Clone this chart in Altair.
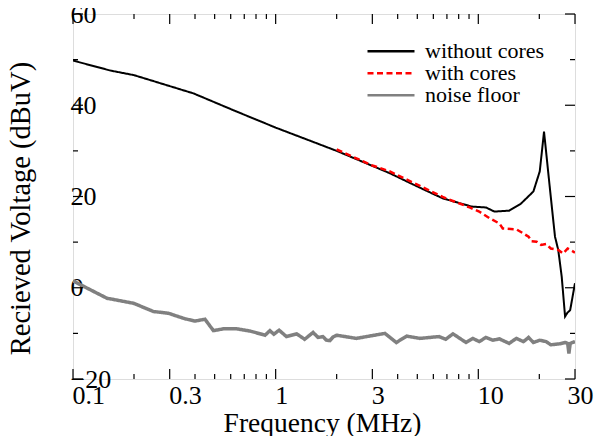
import altair as alt
import pandas as pd

# ---------------- data ----------------
series_names = ["without cores", "with cores", "noise floor"]
series_colors = ["#000000", "#ff0000", "#808080"]

f_without = [0.1, 0.153, 0.2, 0.3, 0.393, 0.643, 1.0, 2.0, 3.66, 5.0, 6.67, 9.26, 10.9,
             12.0, 14.2, 16.2, 18.7, 20.1, 21.1, 22.6, 23.9, 24.8, 25.8, 26.8, 27.5, 28.4, 30.0]
v_without = [49.8, 47.6, 46.6, 44.2, 42.6, 38.6, 35.1, 30.0, 25.1, 22.2, 19.6, 17.8, 17.6,
             16.7, 16.9, 18.4, 21.1, 25.5, 34.2, 21.4, 11.2, 8.3, 2.4, -6.3, -5.5, -4.9, 1.0]

f_with = [2.0, 3.0, 3.66, 5.0, 6.67, 9.06, 10.1, 11.4, 12.7, 13.2, 15.4, 16.7, 17.7, 18.3,
          19.4, 20.4, 21.6, 22.8, 24.8, 26.2, 27.6, 28.5, 30.0]
v_with = [30.3, 26.8, 25.5, 22.6, 19.9, 17.6, 16.7, 15.2, 14.1, 13.0, 12.8, 11.9, 11.2, 10.2,
          10.1, 9.4, 9.6, 8.6, 8.3, 7.5, 8.6, 8.3, 7.7]

f_noise = [0.1, 0.147, 0.199, 0.249, 0.296, 0.357, 0.40, 0.448, 0.493, 0.553, 0.643, 0.75,
           0.886, 0.937, 0.98, 1.04, 1.13, 1.27, 1.39, 1.53, 1.62, 1.71, 1.78, 1.85, 1.92, 2.0,
           2.5, 3.46, 3.94, 4.43, 5.15, 6.4, 6.9, 7.5, 8.7, 9.4, 10.1, 10.9, 11.8, 12.7, 14.2,
           15.4, 16.7, 17.7, 18.7, 20.1, 21.6, 22.8, 25.1, 26.9, 27.6, 28.0, 28.4, 30.0]
v_noise = [1.5, -2.3, -3.4, -5.2, -5.6, -6.8, -7.3, -6.9, -9.4, -9.0, -9.0, -9.5,
           -10.4, -9.4, -10.2, -9.3, -10.7, -10.1, -11.3, -9.8, -10.9, -10.7, -11.5, -11.6, -10.8, -10.4,
           -11.1, -10.0, -12.0, -10.6, -11.1, -10.7, -11.3, -10.1, -12.0, -11.1, -11.8, -10.9, -11.5, -11.2, -12.2,
           -11.1, -11.8, -10.9, -12.0, -11.5, -11.8, -12.5, -12.3, -12.0, -12.2, -14.4, -12.2, -11.8]

x_major = [0.1, 0.3, 1, 3, 10, 30]
x_minor = [0.2, 0.4, 0.5, 0.6, 0.7, 0.8, 0.9, 2, 4, 5, 6, 7, 8, 9, 20]
y_major = [-20, 0, 20, 40, 60]
y_minor = [-10, 10, 30, 50]

# ---------------- build table ----------------
rows = []
for name, fs, vs in [(series_names[0], f_without, v_without),
                     (series_names[1], f_with, v_with),
                     (series_names[2], f_noise, v_noise)]:
    for f, v in zip(fs, vs):
        rows.append({"freq": f, "value": v, "series": name})
df = pd.DataFrame(rows)

W, H = 502, 365
FONT = "Liberation Serif"

xs = alt.Scale(type="log", domain=[0.1, 30], nice=False)
ys = alt.Scale(domain=[-20, 60], nice=False)
color_scale = alt.Scale(domain=series_names, range=series_colors)
dash_scale = alt.Scale(domain=series_names, range=[[1, 0], [6, 3.5], [1, 0]])

xaxis = alt.Axis(values=x_major, format="~g", title="Frequency (MHz)",
                 titleFont=FONT, titleFontSize=27.5, titleFontWeight="normal", titleColor="black",
                 titleX=249, titleY=52, titleBaseline="alphabetic", titleAlign="center",
                 labelFont=FONT, labelFontSize=26, labelColor="black", labelAlign="left",
                 labelBaseline="alphabetic", labelPadding=24.3,
                 labelOffset={"condition": {"test": "datum.value >= 30", "value": -8}, "value": -1},
                 labelFlush=False, labelOverlap=False, labelBound=False,
                 ticks=False, domain=False, grid=False)
yaxis = alt.Axis(values=y_major, format="d", title="Recieved Voltage (dBuV)",
                 titleFont=FONT, titleFontSize=28.5, titleFontWeight="normal", titleColor="black",
                 titleX=-43.4, titleY=194, titleBaseline="alphabetic", titleAlign="center",
                 labelFont=FONT, labelFontSize=26, labelColor="black", labelAlign="left",
                 labelBaseline="middle", labelPadding=3, labelFlush=False,
                 labelOverlap=False, labelBound=False, ticks=False, domain=False, grid=False)

# legend symbol: a long horizontal stroke drawn from a custom path
legend = alt.Legend(title=None, orient="none", legendX=307, legendY=26.2,
                    symbolType="M-4.7,0H4.7", symbolSize=100, symbolStrokeWidth=2.5,
                    labelFont=FONT, labelFontSize=22, labelColor="black", labelOffset=23,
                    rowPadding={"expr": "-1.4"}, padding=0, labelLimit=0)

base = alt.Chart(df)


def line(name, sw):
    return base.transform_filter(alt.datum.series == name).mark_line(strokeWidth=sw, clip=True).encode(
        x=alt.X("freq:Q", scale=xs, axis=xaxis),
        y=alt.Y("value:Q", scale=ys, axis=yaxis),
        color=alt.Color("series:N", scale=color_scale, legend=legend),
        strokeDash=alt.StrokeDash("series:N", scale=dash_scale, legend=legend),
    )


def xticks(vals, length, top):
    d = pd.DataFrame({"t": vals})
    y0, y1 = (0, length) if top else (H, H - length)
    return alt.Chart(d).mark_rule(color="black", strokeWidth=1.2).encode(
        x=alt.X("t:Q", scale=xs, axis=xaxis), y=alt.value(y0), y2=alt.value(y1))


def yticks(vals, length, right):
    d = pd.DataFrame({"t": vals})
    x0, x1 = (W, W - length) if right else (0, length)
    return alt.Chart(d).mark_rule(color="black", strokeWidth=1.2).encode(
        y=alt.Y("t:Q", scale=ys, axis=yaxis), x=alt.value(x0), x2=alt.value(x1))


chart = alt.layer(
    line("without cores", 2),
    line("with cores", 2.5),
    line("noise floor", 3.5),
    xticks(x_major, 10, False), xticks(x_minor, 5, False),
    xticks(x_major, 10, True), xticks(x_minor, 5, True),
    yticks(y_major, 10, False), yticks(y_minor, 5, False),
    yticks(y_major, 10, True), yticks(y_minor, 5, True),
).properties(
    width=W, height=H,
    autosize=alt.AutoSizeParams(type="none"),
    padding={"left": 65, "top": 6, "right": 20, "bottom": 57},
).configure_view(
    stroke="black", strokeWidth=1.3
).configure(font=FONT, background="white")

chart.save("out.html", embed_options={"renderer": "svg", "actions": False})
